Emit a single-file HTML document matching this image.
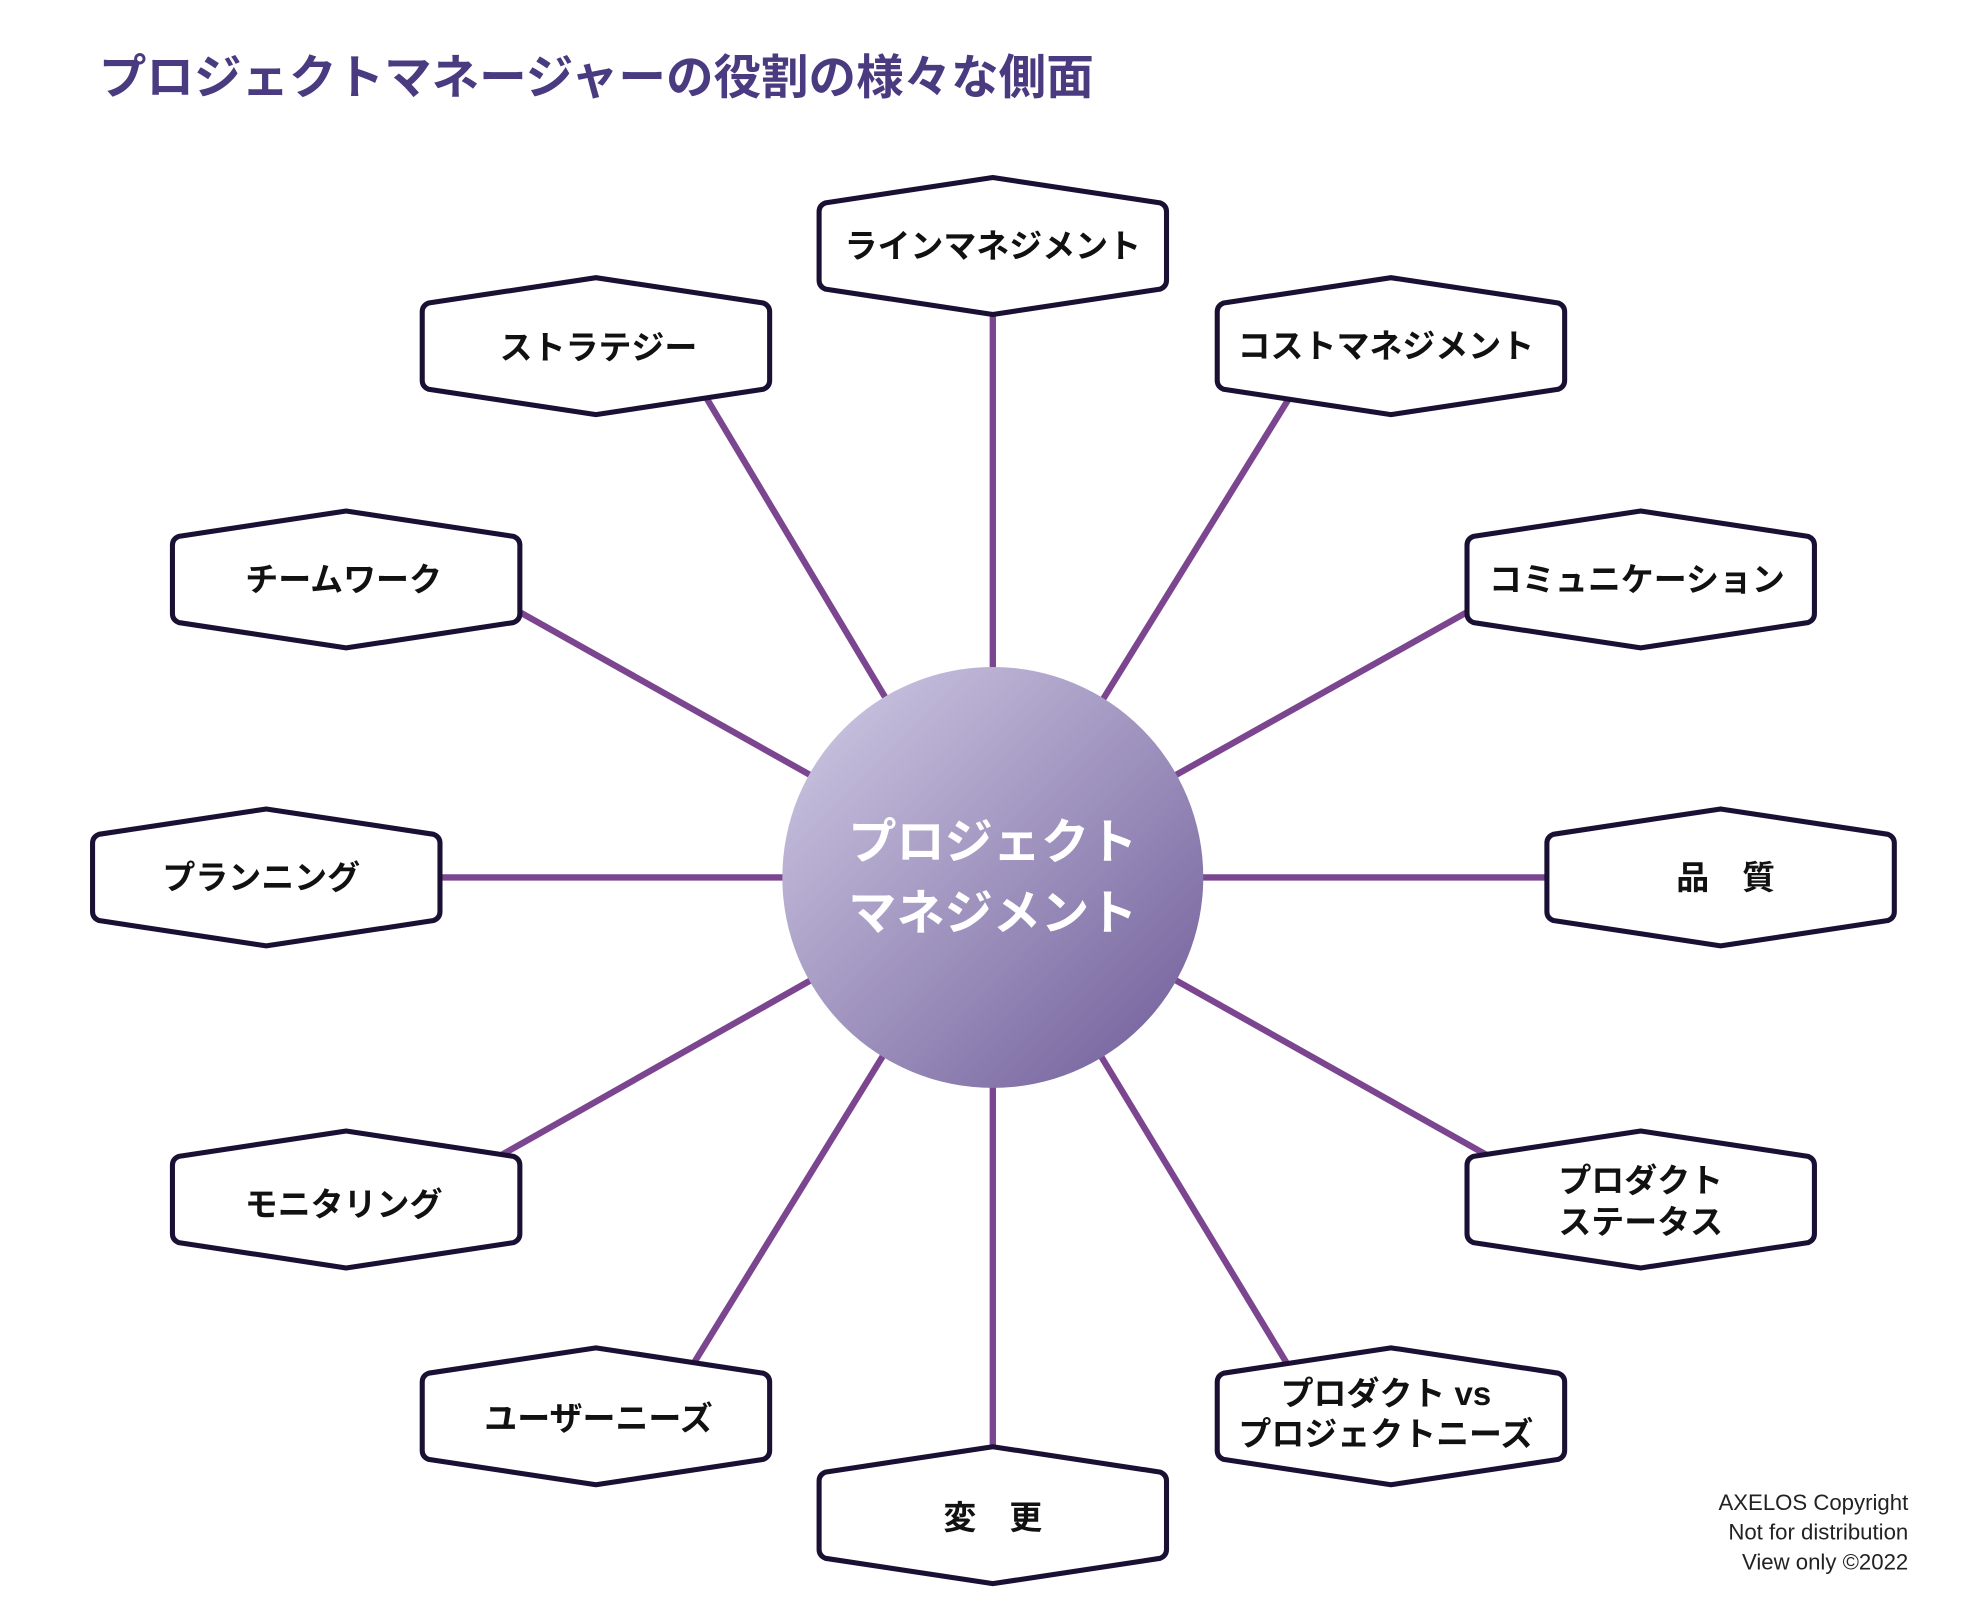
<!DOCTYPE html>
<html><head><meta charset="utf-8"><style>
html,body{margin:0;padding:0;background:#fff;}
svg{display:block}
text{font-family:"Liberation Sans","Noto Sans CJK JP",sans-serif;}
</style></head><body>
<svg width="1978" height="1616" viewBox="0 0 1560 1274.5" xmlns="http://www.w3.org/2000/svg">
<defs>
<linearGradient id="g" x1="0" y1="0" x2="1" y2="1">
<stop offset="0" stop-color="#d2cde6"/>
<stop offset="1" stop-color="#6e5b98"/>
</linearGradient>
<path id="hex" d="M0,-54 L132,-34 Q137,-32 137,-27 L137,27 Q137,32 132,34 L0,54 L-132,34 Q-137,32 -137,27 L-137,-27 Q-137,-32 -132,-34 Z" fill="#fff" stroke="#1a1033" stroke-width="4" stroke-linejoin="round"/>
</defs>
<text x="78" y="74" font-size="37.5" font-weight="bold" fill="#4a3b80">プロジェクトマネージャーの役割の様々な側面</text>
<g stroke="#7b4590" stroke-width="5">
<line x1="783" y1="692" x2="783" y2="240"/>
<line x1="783" y1="692" x2="556" y2="312"/>
<line x1="783" y1="692" x2="1018" y2="312"/>
<line x1="783" y1="692" x2="405" y2="480"/>
<line x1="783" y1="692" x2="1162" y2="480"/>
<line x1="783" y1="692" x2="340" y2="692"/>
<line x1="783" y1="692" x2="1226" y2="692"/>
<line x1="783" y1="692" x2="390" y2="914"/>
<line x1="783" y1="692" x2="1178" y2="914"/>
<line x1="783" y1="692" x2="546" y2="1077"/>
<line x1="783" y1="692" x2="1016" y2="1077"/>
<line x1="783" y1="692" x2="783" y2="1146"/>
</g>
<circle cx="783" cy="692" r="166" fill="url(#g)"/>
<text x="783" y="677" font-size="38" font-weight="bold" fill="#fff" text-anchor="middle">プロジェクト</text>
<text x="783" y="733" font-size="38" font-weight="bold" fill="#fff" text-anchor="middle">マネジメント</text>
<g font-size="26" font-weight="bold" fill="#111" text-anchor="middle">
<use href="#hex" x="783" y="194"/><text x="783" y="203">ラインマネジメント</text>
<use href="#hex" x="470" y="273"/><text x="472" y="283">ストラテジー</text>
<use href="#hex" x="1097" y="273"/><text x="1093" y="282">コストマネジメント</text>
<use href="#hex" x="273" y="457"/><text x="271" y="466">チームワーク</text>
<use href="#hex" x="1294" y="457"/><text x="1291" y="466">コミュニケーション</text>
<use href="#hex" x="210" y="692"/><text x="206" y="701">プランニング</text>
<use href="#hex" x="1357" y="692"/><text x="1361" y="701">品　質</text>
<use href="#hex" x="273" y="946"/><text x="271" y="959">モニタリング</text>
<use href="#hex" x="1294" y="946"/><text x="1294" y="940">プロダクト</text><text x="1294" y="973">ステータス</text>
<use href="#hex" x="470" y="1117"/><text x="472" y="1128">ユーザーニーズ</text>
<use href="#hex" x="1097" y="1117"/><text x="1093" y="1108">プロダクト vs</text><text x="1093" y="1140">プロジェクトニーズ</text>
<use href="#hex" x="783" y="1195"/><text x="783" y="1206">変　更</text>
</g>
<g font-size="17.5" fill="#222" text-anchor="end">
<text x="1505" y="1191">AXELOS Copyright</text>
<text x="1505" y="1214">Not for distribution</text>
<text x="1505" y="1238">View only ©2022</text>
</g>
</svg>
</body></html>
